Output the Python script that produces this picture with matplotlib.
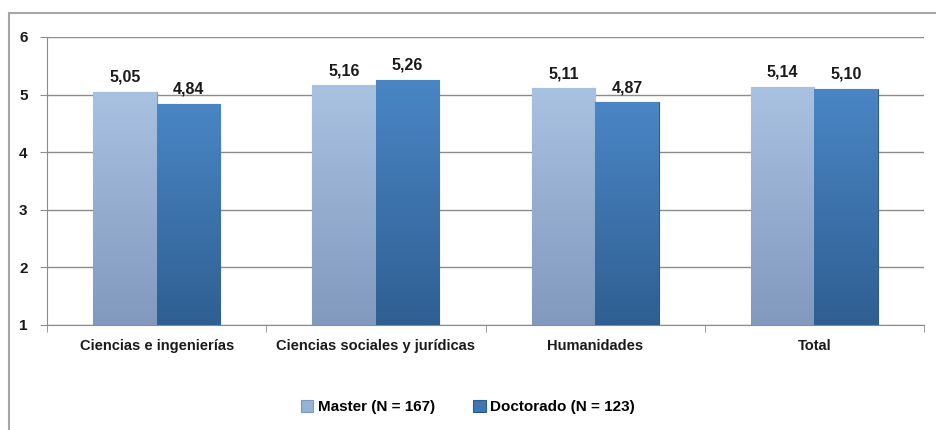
import numpy as np
import matplotlib.pyplot as plt
from matplotlib.patches import Rectangle
from matplotlib.colors import LinearSegmentedColormap

categories = ["Ciencias e ingenierías", "Ciencias sociales y jurídicas", "Humanidades", "Total"]
master = [5.05, 5.16, 5.11, 5.14]
doctorado = [4.84, 5.26, 4.87, 5.10]
series_labels = ["Master (N = 167)", "Doctorado (N = 123)"]

plt.rcParams['font.family'] = ['Liberation Sans', 'DejaVu Sans']
plt.rcParams['font.weight'] = 'bold'

fig = plt.figure(figsize=(9.36, 4.30), dpi=100)
# outer chart frame (only top/left edges show in the original)
fig.patches.append(Rectangle((9 / 936, -0.1), 1.1, (430 - 13) / 430 + 0.1,
                             transform=fig.transFigure, fill=False,
                             edgecolor="#a6a6a6", linewidth=1.5))

ax = fig.add_axes([47 / 936, 105 / 430, 877 / 936, 288 / 430])

x = np.arange(len(categories))
width = 0.29
light_cols = ("#a9c2e2", "#8099bd")
dark_cols = ("#4a86c5", "#2f5f92")

bars_m = ax.bar(x - width / 2, np.array(master) - 1, width, bottom=1,
                color="#95b3d7", edgecolor="#7f97b8", linewidth=0.8, zorder=3)
bars_d = ax.bar(x + width / 2, np.array(doctorado) - 1, width, bottom=1,
                color="#3f77b3", edgecolor="#2c5a8c", linewidth=0.8, zorder=3)


def add_gradient(bars, cols):
    # vertical gradient painted inside each bar
    cmap = LinearSegmentedColormap.from_list("g", [cols[1], cols[0]])
    grad = np.linspace(0, 1, 256).reshape(-1, 1)
    for b in bars:
        x0, y0 = b.get_x(), b.get_y()
        im = ax.imshow(grad, extent=(x0, x0 + b.get_width(), y0, y0 + b.get_height()),
                       origin="lower", cmap=cmap, aspect="auto", zorder=3.5)
        im.set_clip_path(b)


add_gradient(bars_m, light_cols)
add_gradient(bars_d, dark_cols)

for bars, vals in ((bars_m, master), (bars_d, doctorado)):
    for b, v in zip(bars, vals):
        ax.text(b.get_x() + b.get_width() / 2, v + 0.12, "{:.2f}".format(v).replace(".", ","),
                ha="center", va="bottom", fontsize=11.5, fontweight="bold", color="#1a1a1a")

ax.set_xlim(-0.5, len(categories) - 0.5)
ax.set_ylim(1, 6)
ax.set_yticks([1, 2, 3, 4, 5, 6])
ax.set_xticks(x)
ax.set_xticklabels(categories)
ax.set_xticks(np.arange(-0.5, len(categories)), minor=True)
ax.tick_params(axis="x", which="major", length=0, pad=10, labelsize=10.5)
ax.tick_params(axis="x", which="minor", length=5, color="#8c8c8c")
ax.tick_params(axis="y", length=5, color="#8c8c8c", labelsize=11, pad=9)
for lab in ax.get_xticklabels() + ax.get_yticklabels():
    lab.set_fontweight("bold")
    lab.set_color("#1a1a1a")

ax.grid(axis="y", color="#8c8c8c", linewidth=1, zorder=0)
for s in ("top", "right"):
    ax.spines[s].set_visible(False)
ax.spines["left"].set_color("#8c8c8c")
ax.spines["bottom"].set_color("#8c8c8c")

fig.legend([bars_m, bars_d], series_labels, loc="center", bbox_to_anchor=(0.5, 23 / 430),
           ncol=2, frameon=False, handlelength=0.8, handleheight=0.8,
           handletextpad=0.3, columnspacing=2.5, prop={"weight": "bold", "size": 11})

fig.savefig("out.png", dpi=100)
